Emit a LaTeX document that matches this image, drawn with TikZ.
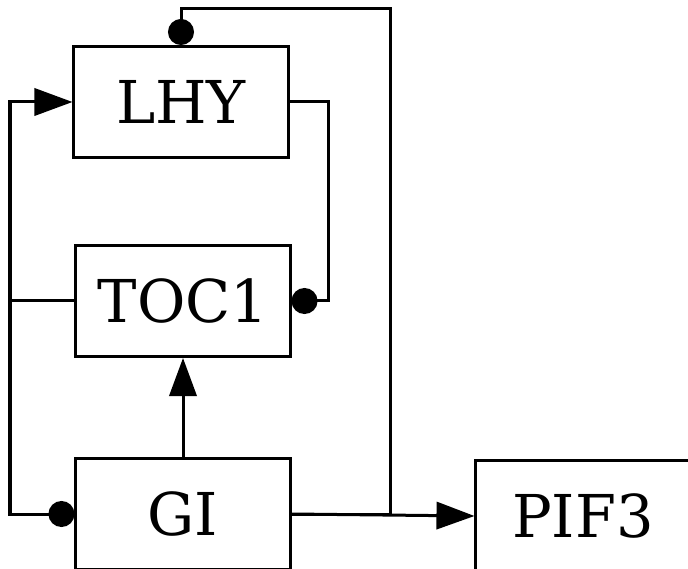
\documentclass[tikz,border=0pt]{standalone}
\usepackage{fontspec}
\setmainfont{DejaVu Serif}
\usepackage{tikz}
\usetikzlibrary{arrows.meta}

\begin{document}
\begin{tikzpicture}[x=0.025cm, y=-0.025cm, line width=0.075cm,
  gene/.style={draw, rectangle, inner sep=0pt, minimum width=5.35cm,
               minimum height=2.775cm, font=\fontsize{42}{48}\selectfont},
  act/.style={-{Triangle[length=0.95cm, width=0.68cm]}},
  inh/.style={-{Circle[length=0.65cm]}}]
  \clip (0,0) rectangle (688,569);
  % genes
  \node[gene] (lhy)  at (181,102) {LHY};
  \node[gene] (toc1) at (183,301) {TOC1};
  \node[gene] (gi)   at (183,514) {GI};
  \node[gene] (pif3) at (583,516) {PIF3};
  % left loop
  \coordinate (lft) at (10,301);
  \draw[act] (toc1.west) -- (lft) |- (lhy.west);
  \draw[inh] (lft) |- (gi.west);
  % LHY -> TOC1
  \draw[inh] (lhy.east) -| (328,301) -- (toc1.east);
  % GI
  \draw[act] (gi) -- (toc1);
  \draw[inh] (gi.east) -| (390,9) -| (lhy.north);
  \draw[act] (gi.east) -- (pif3.west);
\end{tikzpicture}
\end{document}
